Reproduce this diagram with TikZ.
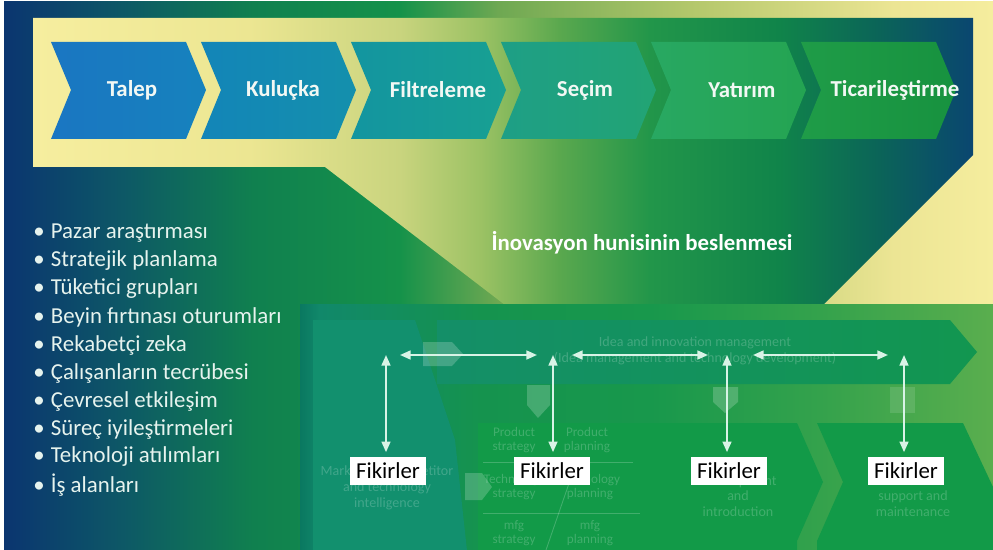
\documentclass[tikz,border=0pt]{standalone}
\usepackage{fontspec}
\setmainfont{Carlito}
\usetikzlibrary{arrows.meta}

\definecolor{bgA}{HTML}{0B3570}
\definecolor{bgB}{HTML}{0D5866}
\definecolor{bgC}{HTML}{10804F}
\definecolor{bgD}{HTML}{15924A}
\definecolor{bgE}{HTML}{6EA852}
\definecolor{bgF}{HTML}{B5C86C}
\definecolor{bgG}{HTML}{ECE594}
\definecolor{bgH}{HTML}{F5ED9E}
\definecolor{fuA}{HTML}{F6EE9F}
\definecolor{fuB}{HTML}{ECE692}
\definecolor{fuC}{HTML}{C9D47E}
\definecolor{fuD}{HTML}{9CC264}
\definecolor{fuE}{HTML}{5AA84E}
\definecolor{fuF}{HTML}{22964A}
\definecolor{fuG}{HTML}{10844A}
\definecolor{fuH}{HTML}{0B6458}
\definecolor{fuI}{HTML}{0A4670}
\definecolor{pA}{HTML}{0A7860}
\definecolor{pB}{HTML}{11886A}
\definecolor{pC}{HTML}{15934E}
\definecolor{pD}{HTML}{18984C}
\definecolor{pE}{HTML}{34A24C}
\definecolor{pF}{HTML}{5AAE4E}
\definecolor{c1l}{HTML}{1A76C2}
\definecolor{c1r}{HTML}{1682BD}
\definecolor{c2l}{HTML}{1385B8}
\definecolor{c2r}{HTML}{1490AC}
\definecolor{c3l}{HTML}{1395A0}
\definecolor{c3r}{HTML}{18A092}
\definecolor{c4l}{HTML}{1E9F86}
\definecolor{c4r}{HTML}{22A474}
\definecolor{c5l}{HTML}{28A862}
\definecolor{c5r}{HTML}{24A452}
\definecolor{c6l}{HTML}{1F9C48}
\definecolor{c6r}{HTML}{17923F}
\definecolor{mktcol}{HTML}{12906E}
\definecolor{bandl}{HTML}{148F68}
\definecolor{bandr}{HTML}{129650}
\definecolor{stepcol}{HTML}{129A48}
\definecolor{lbltxt}{HTML}{F2F8F4}
\definecolor{listtxt}{HTML}{E6F3EE}
\definecolor{arrowcol}{HTML}{D8F3E6}

\pgfdeclarehorizontalshading{bgshade}{100bp}{color(0bp)=(bgA); color(25bp)=(bgA);
  color(31bp)=(bgB); color(37.6bp)=(bgC); color(45bp)=(bgD); color(50bp)=(bgE);
  color(60bp)=(bgF); color(70bp)=(bgG); color(75bp)=(bgH); color(100bp)=(bgH)}
\pgfdeclarehorizontalshading{funnelshade}{100bp}{color(0bp)=(fuA); color(25bp)=(fuA);
  color(36.5bp)=(fuB); color(44.5bp)=(fuC); color(48.8bp)=(fuD); color(53bp)=(fuE);
  color(57.8bp)=(fuF); color(64.7bp)=(fuG); color(70bp)=(fuH); color(75bp)=(fuI);
  color(100bp)=(fuI)}
\pgfdeclarehorizontalshading{panelshade}{100bp}{color(0bp)=(pA); color(25bp)=(pA);
  color(26.4bp)=(pB); color(38bp)=(pC); color(50.25bp)=(pD); color(62.5bp)=(pE);
  color(75bp)=(pF); color(100bp)=(pF)}

\begin{document}
\begin{tikzpicture}[x=0.02cm,y=-0.02cm,
    stagelbl/.style={text=lbltxt, font=\fontsize{13}{15}\selectfont\bfseries},
    headlbl/.style={text=white, font=\fontsize{13}{15}\selectfont\bfseries},
    bulletitem/.style={anchor=west, inner sep=0pt, text=listtxt, font=\fontsize{13}{15}\selectfont},
    idea/.style={fill=white, text=black, font=\fontsize{13}{15}\selectfont,
      inner xsep=3.5pt, inner ysep=0pt, minimum height=16pt},
    faint/.style={text=white, text opacity=0.2, align=center, inner sep=0pt,
      font=\fontsize{8}{9}\selectfont},
    faintsm/.style={faint, font=\fontsize{7.5}{8}\selectfont},
    faintline/.style={draw=white, draw opacity=0.2, line width=0.5pt},
    ghost/.style={fill=white, fill opacity=0.2},
    dbl/.style={{Triangle[length=6pt,width=5pt]}-{Triangle[length=6pt,width=5pt]},
      draw=arrowcol, line width=1.1pt}]
  \useasboundingbox (0,0) rectangle (993,550);
  \fill[white] (0,0) rectangle (993,550);
  \shade[shading=bgshade] (4,2) rectangle (993,550);
  \shade[shading=funnelshade] (33,18) -- (973,18) -- (973,155) -- (823,305)
    -- (505,305) -- (325,167) -- (33,167) -- cycle;

  % stages
  \foreach \i/\lc/\rc in {0/c1l/c1r,1/c2l/c2r,2/c3l/c3r,3/c4l/c4r,4/c5l/c5r,5/c6l/c6r}
    \shade[left color=\lc, right color=\rc] ({51+150*\i},42) -- ++(135,0) -- ++(20,48)
      -- ++(-20,49) -- ++(-135,0) -- ++(20,-49) -- cycle;
  \foreach \n/\x/\t in {s1/132/Talep, s2/283/Kuluçka, s3/438/Filtreleme,
      s4/585/Seçim, s5/742/Yatırım, s6/895/Ticarileştirme}
    \node[stagelbl] (\n) at (\x,90) {\t};

  \foreach \t [count=\i] in {Pazar araştırması, Stratejik planlama, Tüketici grupları,
      Beyin fırtınası oturumları, Rekabetçi zeka, Çalışanların tecrübesi,
      Çevresel etkileşim, Süreç iyileştirmeleri, Teknoloji atılımları, İş alanları}
    \node[bulletitem] (b\i) at (33,{205+28*\i}) {\textbullet\hspace{3.5pt}\t};

  \node[headlbl] (huni) at (642,243) {İnovasyon hunisinin beslenmesi};

  % faded funnel picture
  \begin{scope}
    \clip (300,305) rectangle (993,550);
    \shade[shading=panelshade] (300,305) rectangle (993,550);
    \fill[mktcol] (313,320) -- (415,320) -- (455,440) -- (468,560) -- (313,560) -- cycle;
    \shade[left color=bandl, right color=bandr] (437,320) -- (950,320) -- (977,352)
      -- (950,384) -- (437,384) -- cycle;
    \fill[stepcol] (478,423) -- (797,423) -- (823,482) -- (797,541) -- (797,560)
      -- (478,560) -- cycle;
    \fill[stepcol] (817,423) -- (963,423) -- (993,487) -- (993,560) -- (817,560)
      -- (817,541) -- (843,482) -- cycle;
    \fill[ghost] (423,342) -- (452,342) -- (463,354) -- (452,366) -- (423,366) -- cycle;
    \fill[ghost] (527,385) -- (550,385) -- (550,405) -- (538,418) -- (527,405) -- cycle;
    \fill[ghost] (713,387) -- (738,387) -- (738,402) -- (725,413) -- (713,402) -- cycle;
    \fill[white, fill opacity=0.12] (890,387) rectangle (915,413);
    \fill[ghost] (465,473) -- (482,473) -- (492,487) -- (482,500) -- (465,500) -- cycle;
    \draw[faintline] (483,462) -- (633,462);
    \draw[faintline] (483,513) -- (640,513);
    \draw[faintline] (575,466) -- (546,550);
    \node[faint] (mkt) at (387,488) {Market and competitor\\and technology\\intelligence};
    \node[faint] (iim) at (695,351) {Idea and innovation management\\(Idea management and technology development)};
    \node[faintsm] (ps) at (514,440) {Product\\strategy};
    \node[faintsm] (pp) at (587,440) {Product\\planning};
    \node[faintsm] (ts) at (514,487) {Technology\\strategy};
    \node[faintsm] (tp) at (590,487) {Technology\\planning};
    \node[faintsm] (ms) at (514,533) {mfg\\strategy};
    \node[faintsm] (mp) at (590,533) {mfg\\planning};
    \node[faint] (dev) at (738,496) {Development\\and\\introduction};
    \node[faint] (sup) at (913,496) {Production\\support and\\maintenance};
  \end{scope}

  % ideas
  \node[idea] (f1) at (388,471) {Fikirler};
  \node[idea] (f2) at (552,471) {Fikirler};
  \node[idea] (f3) at (729,471) {Fikirler};
  \node[idea] (f4) at (906,471) {Fikirler};
  \coordinate (t1) at (386,355);
  \coordinate (t2) at (553,355);
  \coordinate (t3) at (727,355);
  \coordinate (t4) at (904,355);
  \foreach \i in {1,2,3,4}
    \draw[dbl, shorten >=2.5pt] (t\i) -- (t\i |- f\i.north);
  \draw[dbl, shorten <=0.28cm, shorten >=0.32cm] (t1) -- (t2);
  \draw[dbl, shorten <=0.38cm, shorten >=0.38cm] (t2) -- (t3);
  \draw[dbl, shorten <=0.52cm, shorten >=0.32cm] (t3) -- (t4);
\end{tikzpicture}
\end{document}
